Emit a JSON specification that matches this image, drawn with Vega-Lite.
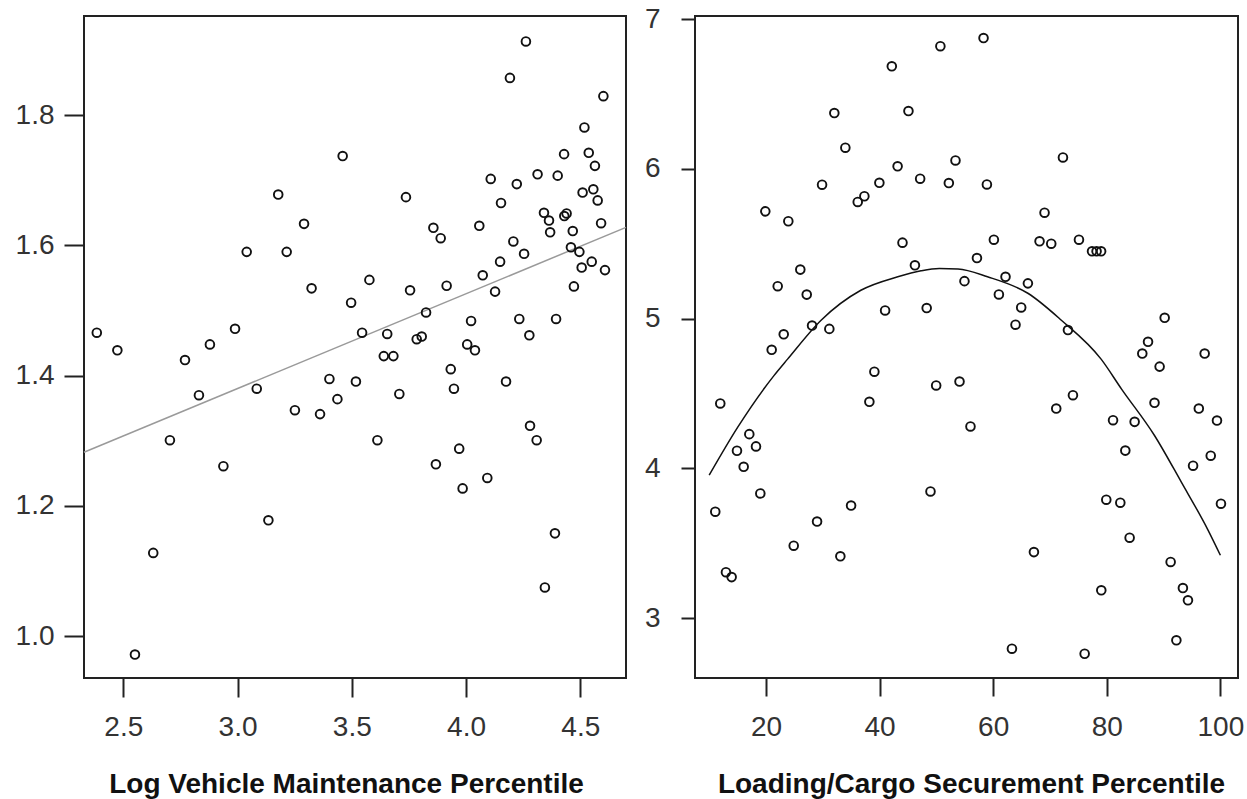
{
  "$schema": "https://vega.github.io/schema/vega-lite/v6.json",
  "background": "white",
  "padding": {"left": 14, "top": 4, "right": 5, "bottom": 0},
  "spacing": 13,
  "config": {
    "view": {"stroke": "#222", "strokeWidth": 2},
    "axis": {
      "grid": false,
      "domain": false,
      "tickColor": "#222",
      "tickWidth": 2,
      "labelFont": "Liberation Sans",
      "labelFontSize": 28,
      "labelColor": "#333",
      "labelFlush": false,
      "titleFont": "Liberation Sans",
      "titleFontSize": 28,
      "titleFontWeight": "bold",
      "titleColor": "#111"
    }
  },
  "datasets": {
    "left": [
      {"x": 2.384, "y": 1.466}, {"x": 2.474, "y": 1.439}, {"x": 2.551, "y": 0.972}, {"x": 2.631, "y": 1.128},
      {"x": 2.704, "y": 1.301}, {"x": 2.770, "y": 1.424}, {"x": 2.831, "y": 1.370}, {"x": 2.879, "y": 1.448},
      {"x": 2.938, "y": 1.261}, {"x": 2.989, "y": 1.472}, {"x": 3.040, "y": 1.590}, {"x": 3.084, "y": 1.380},
      {"x": 3.135, "y": 1.178}, {"x": 3.178, "y": 1.678}, {"x": 3.215, "y": 1.590}, {"x": 3.251, "y": 1.347},
      {"x": 3.291, "y": 1.633}, {"x": 3.324, "y": 1.534}, {"x": 3.361, "y": 1.341}, {"x": 3.402, "y": 1.395},
      {"x": 3.437, "y": 1.364}, {"x": 3.460, "y": 1.737}, {"x": 3.497, "y": 1.512}, {"x": 3.518, "y": 1.391},
      {"x": 3.545, "y": 1.466}, {"x": 3.577, "y": 1.547}, {"x": 3.612, "y": 1.301}, {"x": 3.640, "y": 1.430},
      {"x": 3.655, "y": 1.464}, {"x": 3.682, "y": 1.430}, {"x": 3.708, "y": 1.372}, {"x": 3.737, "y": 1.674},
      {"x": 3.755, "y": 1.531}, {"x": 3.784, "y": 1.456}, {"x": 3.806, "y": 1.460}, {"x": 3.825, "y": 1.497},
      {"x": 3.857, "y": 1.627}, {"x": 3.868, "y": 1.264}, {"x": 3.889, "y": 1.611}, {"x": 3.915, "y": 1.538},
      {"x": 3.933, "y": 1.410}, {"x": 3.947, "y": 1.380}, {"x": 3.970, "y": 1.288}, {"x": 3.985, "y": 1.227},
      {"x": 4.005, "y": 1.448}, {"x": 4.022, "y": 1.484}, {"x": 4.039, "y": 1.439}, {"x": 4.058, "y": 1.630},
      {"x": 4.073, "y": 1.554}, {"x": 4.093, "y": 1.243}, {"x": 4.108, "y": 1.702}, {"x": 4.127, "y": 1.529},
      {"x": 4.149, "y": 1.575}, {"x": 4.153, "y": 1.665}, {"x": 4.175, "y": 1.391}, {"x": 4.192, "y": 1.857},
      {"x": 4.207, "y": 1.606}, {"x": 4.222, "y": 1.694}, {"x": 4.233, "y": 1.487}, {"x": 4.254, "y": 1.587},
      {"x": 4.262, "y": 1.913}, {"x": 4.277, "y": 1.462}, {"x": 4.280, "y": 1.323}, {"x": 4.309, "y": 1.301},
      {"x": 4.313, "y": 1.709}, {"x": 4.341, "y": 1.650}, {"x": 4.345, "y": 1.075}, {"x": 4.363, "y": 1.638},
      {"x": 4.368, "y": 1.620}, {"x": 4.389, "y": 1.158}, {"x": 4.394, "y": 1.487}, {"x": 4.401, "y": 1.707},
      {"x": 4.429, "y": 1.740}, {"x": 4.430, "y": 1.645}, {"x": 4.440, "y": 1.649}, {"x": 4.459, "y": 1.597},
      {"x": 4.467, "y": 1.622}, {"x": 4.472, "y": 1.537}, {"x": 4.496, "y": 1.590}, {"x": 4.506, "y": 1.566},
      {"x": 4.510, "y": 1.681}, {"x": 4.518, "y": 1.781}, {"x": 4.537, "y": 1.742}, {"x": 4.550, "y": 1.575},
      {"x": 4.557, "y": 1.686}, {"x": 4.564, "y": 1.722}, {"x": 4.576, "y": 1.669}, {"x": 4.591, "y": 1.634},
      {"x": 4.601, "y": 1.829}, {"x": 4.608, "y": 1.562}
    ],
    "leftFit": [
      {"x": 2.328, "y": 1.2825}, {"x": 4.70, "y": 1.6276}
    ],
    "right": [
      {"x": 11.07, "y": 3.711}, {"x": 11.95, "y": 4.434}, {"x": 12.95, "y": 3.307}, {"x": 13.95, "y": 3.274},
      {"x": 14.89, "y": 4.118}, {"x": 16.07, "y": 4.011}, {"x": 17.06, "y": 4.229}, {"x": 18.24, "y": 4.147},
      {"x": 19.0, "y": 3.833}, {"x": 19.88, "y": 5.717}, {"x": 21.0, "y": 4.792}, {"x": 22.06, "y": 5.217},
      {"x": 23.12, "y": 4.896}, {"x": 23.93, "y": 5.651}, {"x": 24.88, "y": 3.484}, {"x": 26.04, "y": 5.328},
      {"x": 27.17, "y": 5.161}, {"x": 28.11, "y": 4.954}, {"x": 28.99, "y": 3.645}, {"x": 29.87, "y": 5.895},
      {"x": 31.15, "y": 4.932}, {"x": 32.03, "y": 6.374}, {"x": 33.09, "y": 3.413}, {"x": 33.97, "y": 6.142},
      {"x": 34.98, "y": 3.752}, {"x": 36.15, "y": 5.780}, {"x": 37.32, "y": 5.818}, {"x": 38.2, "y": 4.445},
      {"x": 39.08, "y": 4.646}, {"x": 39.96, "y": 5.908}, {"x": 40.97, "y": 5.055}, {"x": 42.15, "y": 6.686},
      {"x": 43.17, "y": 6.018}, {"x": 44.03, "y": 5.508}, {"x": 45.08, "y": 6.387}, {"x": 46.22, "y": 5.357},
      {"x": 47.14, "y": 5.935}, {"x": 48.29, "y": 5.071}, {"x": 48.96, "y": 3.846}, {"x": 49.96, "y": 4.554},
      {"x": 50.7, "y": 6.820}, {"x": 52.19, "y": 5.906}, {"x": 53.36, "y": 6.057}, {"x": 54.07, "y": 4.58},
      {"x": 54.94, "y": 5.251}, {"x": 56.0, "y": 4.28}, {"x": 57.14, "y": 5.405}, {"x": 58.3, "y": 6.875},
      {"x": 58.89, "y": 5.897}, {"x": 60.12, "y": 5.528}, {"x": 61.0, "y": 5.162}, {"x": 62.17, "y": 5.280},
      {"x": 63.30, "y": 2.796}, {"x": 63.93, "y": 4.960}, {"x": 64.93, "y": 5.075}, {"x": 66.11, "y": 5.236},
      {"x": 67.17, "y": 3.441}, {"x": 68.16, "y": 5.517}, {"x": 69.04, "y": 5.708}, {"x": 70.22, "y": 5.501},
      {"x": 71.1, "y": 4.40}, {"x": 72.28, "y": 6.077}, {"x": 73.16, "y": 4.924}, {"x": 74.04, "y": 4.489},
      {"x": 75.10, "y": 5.528}, {"x": 76.1, "y": 2.762}, {"x": 77.4, "y": 5.45}, {"x": 78.2, "y": 5.45},
      {"x": 79.0, "y": 5.45}, {"x": 79.03, "y": 3.186}, {"x": 79.91, "y": 3.791}, {"x": 81.1, "y": 4.322},
      {"x": 82.38, "y": 3.771}, {"x": 83.26, "y": 4.119}, {"x": 84.02, "y": 3.537}, {"x": 84.9, "y": 4.311},
      {"x": 86.25, "y": 4.767}, {"x": 87.26, "y": 4.846}, {"x": 88.4, "y": 4.438}, {"x": 89.3, "y": 4.68},
      {"x": 90.19, "y": 5.006}, {"x": 91.24, "y": 3.375}, {"x": 92.25, "y": 2.852}, {"x": 93.4, "y": 3.201},
      {"x": 94.29, "y": 3.119}, {"x": 95.19, "y": 4.018}, {"x": 96.2, "y": 4.40}, {"x": 97.23, "y": 4.767},
      {"x": 98.3, "y": 4.085}, {"x": 99.4, "y": 4.32}, {"x": 100.1, "y": 3.764}
    ],
    "rightFit": [
      {"x": 10.0, "y": 3.955}, {"x": 15.0, "y": 4.274}, {"x": 21.4, "y": 4.62}, {"x": 23.8, "y": 4.73},
      {"x": 29.7, "y": 4.99}, {"x": 36.7, "y": 5.19}, {"x": 43.2, "y": 5.28}, {"x": 47.3, "y": 5.32},
      {"x": 50.5, "y": 5.335}, {"x": 53.8, "y": 5.332}, {"x": 59.0, "y": 5.28}, {"x": 66.1, "y": 5.17},
      {"x": 72.0, "y": 4.99}, {"x": 79.0, "y": 4.73}, {"x": 82.6, "y": 4.53}, {"x": 88.4, "y": 4.22},
      {"x": 93.1, "y": 3.91}, {"x": 97.8, "y": 3.59}, {"x": 100.0, "y": 3.42}
    ]
  },
  "hconcat": [
    {
      "width": 542,
      "height": 662,
      "layer": [
        {
          "data": {"name": "leftFit"},
          "mark": {"type": "line", "color": "#9a9a9a", "strokeWidth": 1.5},
          "encoding": {
            "x": {"field": "x", "type": "quantitative", "scale": {"domain": [2.328, 4.70], "nice": false, "zero": false},
              "axis": {"title": "Log Vehicle Maintenance Percentile", "values": [2.5, 3.0, 3.5, 4.0, 4.5], "format": ".1f", "tickSize": 19, "labelPadding": 16, "titlePadding": 29, "titleX": 262}},
            "y": {"field": "y", "type": "quantitative", "scale": {"domain": [0.936, 1.952], "nice": false, "zero": false},
              "axis": {"title": null, "values": [1.0, 1.2, 1.4, 1.6, 1.8], "format": ".1f", "tickSize": 20, "labelPadding": 10}}
          }
        },
        {
          "data": {"name": "left"},
          "mark": {"type": "point", "shape": "circle", "filled": false, "color": "#111", "size": 75, "strokeWidth": 1.9, "opacity": 1},
          "encoding": {
            "x": {"field": "x", "type": "quantitative"},
            "y": {"field": "y", "type": "quantitative"}
          }
        }
      ]
    },
    {
      "width": 543,
      "height": 662,
      "layer": [
        {
          "data": {"name": "rightFit"},
          "mark": {"type": "line", "color": "#111", "strokeWidth": 1.5, "interpolate": "monotone"},
          "encoding": {
            "x": {"field": "x", "type": "quantitative", "scale": {"domain": [7.5, 103.1], "nice": false, "zero": false},
              "axis": {"title": "Loading/Cargo Securement Percentile", "values": [20, 40, 60, 80, 100], "format": "d", "tickSize": 18, "labelPadding": 17, "titlePadding": 29, "titleX": 276}},
            "y": {"field": "y", "type": "quantitative", "scale": {"domain": [2.6, 7.022], "nice": false, "zero": false},
              "axis": {"title": null, "values": [3, 4, 5, 6, 7], "format": "d", "tickSize": 14, "labelPadding": 21}}
          }
        },
        {
          "data": {"name": "right"},
          "mark": {"type": "point", "shape": "circle", "filled": false, "color": "#111", "size": 75, "strokeWidth": 1.9, "opacity": 1},
          "encoding": {
            "x": {"field": "x", "type": "quantitative"},
            "y": {"field": "y", "type": "quantitative"}
          }
        }
      ]
    }
  ]
}
